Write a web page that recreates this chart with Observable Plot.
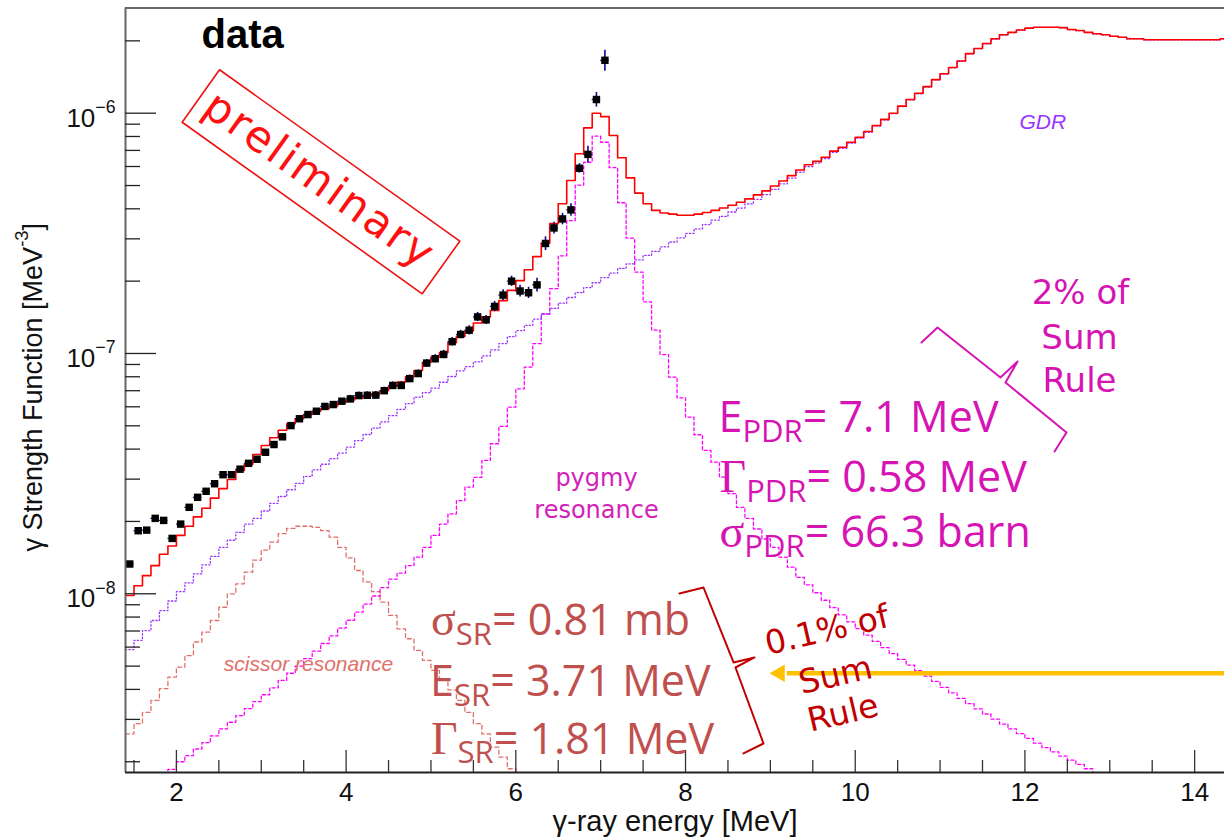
<!DOCTYPE html>
<html>
<head>
<meta charset="utf-8">
<script src="https://cdn.jsdelivr.net/npm/d3@7"></script>
<script src="https://cdn.jsdelivr.net/npm/@observablehq/plot@0.6"></script>
<style>
  html, body { margin: 0; padding: 0; background: #fff; }
  #chart { width: 1224px; height: 838px; overflow: hidden; }
</style>
</head>
<body>
<div id="chart"></div>
<script>
// Histogram binning shared by every fit component (lower edge of the first bin, bin width in MeV)
const energyStart = 1.4;
const binWidth = 0.1;

// Total fit: GDR + pygmy + scissor (one value per 0.1 MeV bin, 1.4–14.4 MeV)
const totalFit = [
  9.84e-9, 1.08e-8, 1.19e-8, 1.31e-8, 1.46e-8, 1.58e-8, 1.75e-8, 1.91e-8, 2.09e-8, 2.27e-8,
  2.50e-8, 2.74e-8, 2.99e-8, 3.26e-8, 3.45e-8, 3.80e-8, 4.14e-8, 4.46e-8, 4.79e-8, 5.10e-8,
  5.35e-8, 5.57e-8, 5.75e-8, 5.89e-8, 6.05e-8, 6.25e-8, 6.40e-8, 6.55e-8, 6.65e-8, 6.80e-8,
  7.00e-8, 7.30e-8, 7.60e-8, 8.00e-8, 8.50e-8, 9.20e-8, 9.66e-8, 1.01e-7, 1.11e-7, 1.18e-7,
  1.24e-7, 1.34e-7, 1.42e-7, 1.51e-7, 1.66e-7, 1.83e-7, 2.01e-7, 2.23e-7, 2.53e-7, 2.88e-7,
  3.47e-7, 4.20e-7, 5.25e-7, 6.78e-7, 8.69e-7, 1.00e-6, 9.68e-7, 8.08e-7, 6.52e-7, 5.38e-7,
  4.65e-7, 4.20e-7, 3.94e-7, 3.84e-7, 3.80e-7, 3.76e-7, 3.76e-7, 3.80e-7, 3.86e-7, 3.94e-7,
  4.03e-7, 4.14e-7, 4.26e-7, 4.40e-7, 4.57e-7, 4.75e-7, 4.98e-7, 5.22e-7, 5.50e-7, 5.80e-7,
  6.10e-7, 6.30e-7, 6.56e-7, 6.95e-7, 7.22e-7, 7.57e-7, 7.94e-7, 8.39e-7, 8.89e-7, 9.42e-7,
  1.00e-6, 1.07e-6, 1.14e-6, 1.21e-6, 1.29e-6, 1.38e-6, 1.46e-6, 1.55e-6, 1.65e-6, 1.77e-6,
  1.86e-6, 1.95e-6, 2.04e-6, 2.12e-6, 2.17e-6, 2.22e-6, 2.26e-6, 2.28e-6, 2.28e-6, 2.28e-6,
  2.27e-6, 2.23e-6, 2.21e-6, 2.17e-6, 2.14e-6, 2.12e-6, 2.09e-6, 2.07e-6, 2.04e-6, 2.04e-6,
  2.02e-6, 2.02e-6, 2.02e-6, 2.02e-6, 2.02e-6, 2.02e-6, 2.02e-6, 2.02e-6, 2.02e-6, 2.04e-6
];

// Giant dipole resonance component (1.4–14.4 MeV)
const gdr = [
  5.86e-9, 6.40e-9, 7.03e-9, 7.74e-9, 8.51e-9, 9.33e-9, 1.02e-8, 1.11e-8, 1.21e-8, 1.32e-8,
  1.43e-8, 1.56e-8, 1.67e-8, 1.80e-8, 1.95e-8, 2.06e-8, 2.21e-8, 2.38e-8, 2.54e-8, 2.71e-8,
  2.88e-8, 3.08e-8, 3.28e-8, 3.46e-8, 3.65e-8, 3.85e-8, 4.08e-8, 4.34e-8, 4.60e-8, 4.89e-8,
  5.19e-8, 5.51e-8, 5.85e-8, 6.19e-8, 6.58e-8, 6.87e-8, 7.18e-8, 7.59e-8, 8.02e-8, 8.47e-8,
  8.81e-8, 9.23e-8, 9.77e-8, 1.035e-7, 1.10e-7, 1.175e-7, 1.245e-7, 1.31e-7, 1.39e-7, 1.46e-7,
  1.54e-7, 1.62e-7, 1.71e-7, 1.79e-7, 1.88e-7, 1.97e-7, 2.07e-7, 2.16e-7, 2.26e-7, 2.36e-7,
  2.45e-7, 2.56e-7, 2.66e-7, 2.78e-7, 2.91e-7, 3.03e-7, 3.16e-7, 3.30e-7, 3.44e-7, 3.59e-7,
  3.72e-7, 3.88e-7, 4.03e-7, 4.19e-7, 4.38e-7, 4.58e-7, 4.82e-7, 5.08e-7, 5.37e-7, 5.68e-7,
  5.99e-7, 6.20e-7, 6.47e-7, 6.87e-7, 7.14e-7, 7.50e-7, 7.87e-7, 8.33e-7, 8.83e-7, 9.37e-7,
  9.95e-7, 1.065e-6, 1.135e-6, 1.205e-6, 1.285e-6, 1.375e-6, 1.455e-6, 1.545e-6, 1.645e-6, 1.765e-6,
  1.855e-6, 1.945e-6, 2.035e-6, 2.115e-6, 2.165e-6, 2.215e-6, 2.255e-6, 2.275e-6, 2.275e-6, 2.275e-6,
  2.265e-6, 2.225e-6, 2.205e-6, 2.165e-6, 2.138e-6, 2.118e-6, 2.088e-6, 2.068e-6, 2.038e-6, 2.038e-6,
  2.018e-6, 2.018e-6, 2.018e-6, 2.018e-6, 2.018e-6, 2.018e-6, 2.018e-6, 2.018e-6, 2.018e-6, 2.038e-6
];

// Pygmy dipole resonance component (1.4–13.1 MeV)
const pygmy = [
  1.25e-9, 1.35e-9, 1.45e-9, 1.57e-9, 1.70e-9, 1.86e-9, 2.00e-9, 2.12e-9, 2.26e-9, 2.40e-9,
  2.56e-9, 2.74e-9, 2.92e-9, 3.11e-9, 3.33e-9, 3.56e-9, 3.80e-9, 4.06e-9, 4.36e-9, 4.67e-9,
  5.00e-9, 5.37e-9, 5.77e-9, 6.21e-9, 6.68e-9, 7.19e-9, 7.76e-9, 8.38e-9, 9.06e-9, 9.79e-9,
  1.06e-8, 1.15e-8, 1.22e-8, 1.31e-8, 1.42e-8, 1.56e-8, 1.75e-8, 1.95e-8, 2.15e-8, 2.44e-8,
  2.78e-8, 3.05e-8, 3.59e-8, 4.21e-8, 4.97e-8, 5.98e-8, 7.13e-8, 8.77e-8, 1.10e-7, 1.46e-7,
  1.86e-7, 2.55e-7, 3.57e-7, 5.02e-7, 6.25e-7, 8.02e-7, 7.57e-7, 5.93e-7, 4.24e-7, 3.02e-7,
  2.18e-7, 1.64e-7, 1.25e-7, 9.90e-8, 7.97e-8, 6.54e-8, 5.43e-8, 4.59e-8, 3.95e-8, 3.53e-8,
  3.06e-8, 2.61e-8, 2.29e-8, 2.06e-8, 1.86e-8, 1.69e-8, 1.56e-8, 1.42e-8, 1.29e-8, 1.17e-8,
  1.09e-8, 1.01e-8, 9.40e-9, 8.75e-9, 8.17e-9, 7.64e-9, 7.16e-9, 6.73e-9, 6.34e-9, 5.97e-9,
  5.64e-9, 5.33e-9, 5.05e-9, 4.79e-9, 4.54e-9, 4.32e-9, 4.08e-9, 3.87e-9, 3.67e-9, 3.49e-9,
  3.32e-9, 3.16e-9, 3.01e-9, 2.87e-9, 2.74e-9, 2.62e-9, 2.50e-9, 2.39e-9, 2.29e-9, 2.20e-9,
  2.11e-9, 2.03e-9, 1.95e-9, 1.87e-9, 1.76e-9, 1.68e-9, 1.60e-9
];

// Scissor resonance component (1.4–6.2 MeV)
const scissor = [
  2.61e-9, 2.88e-9, 3.21e-9, 3.60e-9, 4.03e-9, 4.50e-9, 4.95e-9, 5.53e-9, 6.30e-9, 6.92e-9,
  7.74e-9, 8.79e-9, 1.00e-8, 1.10e-8, 1.23e-8, 1.38e-8, 1.52e-8, 1.64e-8, 1.78e-8, 1.87e-8,
  1.91e-8, 1.91e-8, 1.89e-8, 1.83e-8, 1.72e-8, 1.56e-8, 1.41e-8, 1.25e-8, 1.12e-8, 1.02e-8,
  9.23e-9, 8.13e-9, 7.14e-9, 6.50e-9, 5.81e-9, 5.28e-9, 4.80e-9, 4.37e-9, 3.98e-9, 3.60e-9,
  3.21e-9, 2.88e-9, 2.61e-9, 2.30e-9, 2.09e-9, 1.87e-9, 1.72e-9, 1.55e-9
];

// Measured strength function at bin centres 1.45, 1.55, ... 7.05 MeV
const measured = [
  1.33e-8, 1.83e-8, 1.84e-8, 2.06e-8, 2.02e-8, 1.70e-8, 1.95e-8, 2.29e-8, 2.52e-8, 2.67e-8,
  2.87e-8, 3.13e-8, 3.13e-8, 3.30e-8, 3.49e-8, 3.63e-8, 3.88e-8, 4.18e-8, 4.50e-8, 5.01e-8,
  5.35e-8, 5.57e-8, 5.75e-8, 6.02e-8, 6.13e-8, 6.33e-8, 6.47e-8, 6.68e-8, 6.70e-8, 6.71e-8,
  7.00e-8, 7.36e-8, 7.36e-8, 7.86e-8, 8.25e-8, 9.12e-8, 9.51e-8, 9.91e-8, 1.12e-7, 1.20e-7,
  1.25e-7, 1.42e-7, 1.38e-7, 1.57e-7, 1.75e-7, 2.00e-7, 1.82e-7, 1.79e-7, 1.93e-7, 2.87e-7,
  3.33e-7, 3.63e-7, 3.96e-7, 5.90e-7, 6.74e-7, 1.14e-6, 1.66e-6
];
// Relative statistical uncertainty of each measured point
const measuredErr = [
  0.025, 0.025, 0.025, 0.025, 0.025, 0.025, 0.025, 0.025, 0.025, 0.025,
  0.025, 0.025, 0.025, 0.025, 0.025, 0.025, 0.025, 0.025, 0.025, 0.025,
  0.025, 0.025, 0.025, 0.025, 0.025, 0.025, 0.035, 0.035, 0.035, 0.035,
  0.035, 0.035, 0.035, 0.035, 0.035, 0.035, 0.040, 0.040, 0.040, 0.040,
  0.044, 0.044, 0.044, 0.049, 0.052, 0.049, 0.057, 0.054, 0.066, 0.066,
  0.057, 0.055, 0.060, 0.045, 0.080, 0.070, 0.100
];

// Axis ticks and labels
const xMajor = [2, 4, 6, 8, 10, 12, 14];
const xMinor = [1.5, 2.5, 3, 3.5, 4.5, 5, 5.5, 6.5, 7, 7.5, 8.5, 9, 9.5, 10.5, 11, 11.5, 12.5, 13, 13.5];
const yMajor = [1e-8, 1e-7, 1e-6];
const yMajorLabels = ["10^{−8}", "10^{−7}", "10^{−6}"];
const yMinor = [2e-9, 3e-9, 4e-9, 5e-9, 6e-9, 7e-9, 8e-9, 9e-9,
  2e-8, 3e-8, 4e-8, 5e-8, 6e-8, 7e-8, 8e-8, 9e-8,
  2e-7, 3e-7, 4e-7, 5e-7, 6e-7, 7e-7, 8e-7, 9e-7, 2e-6];
const xDomain = [1.4, 14.352];
const yDomain = [1.804e-9, 2.74e-6];

// Annotations (energy in MeV, strength in MeV^-3)
const curveLabels = [
  {e: 11.936, s: 8.61e-7, t: "GDR", color: "#9933ff"},
  {e: 2.559, s: 4.75e-9, t: "scissor resonance", color: "#e2706b"}
];
const pygmyLabel = [
  {e: 6.951, s: 2.80e-8, t: "pygmy"},
  {e: 6.951, s: 2.07e-8, t: "resonance"}
];
const pdrNotes = [
  {e: 8.389, s: 4.70e-8, t: "E_{PDR}= 7.1 MeV"},
  {e: 8.401, s: 2.65e-8, t: "~{Γ}_{PDR}= 0.58 MeV"},
  {e: 8.401, s: 1.56e-8, t: "~{σ}_{PDR}= 66.3 barn"}
];
const srNotes = [
  {e: 5.00, s: 6.71e-9, t: "~{σ}_{SR}= 0.81 mb"},
  {e: 4.99, s: 3.74e-9, t: "E_{SR}= 3.71 MeV"},
  {e: 5.00, s: 2.16e-9, t: "~{Γ}_{SR}= 1.81 MeV"}
];
const pdrSumRule = [
  {e: 12.655, s: 1.609e-7, t: "2% of"},
  {e: 12.643, s: 1.046e-7, t: "Sum"},
  {e: 12.643, s: 6.90e-8, t: "Rule"}
];
const srSumRule = [
  {e: 9.668, s: 7.04e-9, t: "0.1% of"},
  {e: 9.768, s: 4.57e-9, t: "Sum"},
  {e: 9.856, s: 3.18e-9, t: "Rule"}
];
const pdrBrace = [
  {e: 10.781, s: 1.111e-7}, {e: 10.970, s: 1.283e-7}, {e: 11.712, s: 7.946e-8},
  {e: 11.913, s: 9.26e-8}, {e: 11.771, s: 7.573e-8}, {e: 12.490, s: 4.690e-8}, {e: 12.349, s: 3.910e-8}
];
const srBrace = [
  {e: 7.929, s: 1.003e-8}, {e: 8.212, s: 1.062e-8}, {e: 8.566, s: 5.177e-9},
  {e: 8.813, s: 5.431e-9}, {e: 8.589, s: 4.934e-9}, {e: 8.919, s: 2.382e-9}, {e: 8.683, s: 2.165e-9}
];
const stampBox = [
  {e: 2.508, s: 1.516e-6}, {e: 5.340, s: 2.933e-7}, {e: 4.897, s: 1.772e-7},
  {e: 2.068, s: 9.17e-7}, {e: 2.508, s: 1.516e-6}
];
const stamp = [{e: 3.686, s: 5.25e-7, t: "preliminary"}];
const title = [{e: 2.296, s: 1.86e-6, t: "data"}];
const arrowLine = {y: 4.674e-9, from: 9.2, to: 14.352};

// Turn a list of bin contents into step-line vertices
function histogram(values) {
  const pts = values.map((v, i) => ({e: energyStart + i * binWidth, s: v}));
  pts.push({e: energyStart + values.length * binWidth, s: values[values.length - 1]});
  return pts;
}
const points = measured.map((v, i) => ({e: energyStart + (i + 0.5) * binWidth, s: v, err: measuredErr[i]}));

const sans = "'Liberation Sans', Arial, Helvetica, sans-serif";
const roundSans = "'DejaVu Sans', 'Liberation Sans', sans-serif";
const officeSans = "'Open Sans', 'Noto Sans', sans-serif";

const chart = Plot.plot({
  width: 1224,
  height: 838,
  marginLeft: 125,
  marginRight: 0,
  marginTop: 7.5,
  marginBottom: 66,
  x: {domain: xDomain},
  y: {type: "log", domain: yDomain},
  style: {fontFamily: sans, fontSize: "26px", background: "#fff", color: "#111"},
  marks: [
    // fit components
    Plot.line(histogram(scissor), {x: "e", y: "s", curve: "step-after", stroke: "#e0706b", strokeWidth: 1.3, strokeDasharray: "4,3", clip: true}),
    Plot.line(histogram(pygmy), {x: "e", y: "s", curve: "step-after", stroke: "#ff00ff", strokeWidth: 1.3, strokeDasharray: "3,2.5", clip: true}),
    Plot.line(histogram(gdr), {x: "e", y: "s", curve: "step-after", stroke: "#9933ff", strokeWidth: 1.3, strokeDasharray: "1.3,2.2", clip: true}),
    Plot.line(histogram(totalFit), {x: "e", y: "s", curve: "step-after", stroke: "#ff0000", strokeWidth: 1.6, clip: true}),

    // measured points with error bars
    Plot.ruleY(points, {y: "s", x1: d => d.e - binWidth / 2, x2: d => d.e + binWidth / 2, stroke: "#1010a0", strokeWidth: 1.2}),
    Plot.ruleX(points, {x: "e", y1: d => d.s * (1 - d.err), y2: d => d.s * (1 + d.err), stroke: "#0a0a8c", strokeWidth: 1.6}),
    Plot.dot(points, {x: "e", y: "s", symbol: "square", r: 4.2, fill: "#000", stroke: "none"}),

    // frame
    Plot.ruleX([xDomain[0]], {stroke: "#666", strokeWidth: 2}),
    Plot.ruleY([yDomain[1]], {stroke: "#666", strokeWidth: 2}),
    Plot.ruleY([yDomain[0]], {stroke: "#222", strokeWidth: 2}),

    // axes: ticks drawn inside the frame, labels outside
    Plot.axisX(xMajor, {anchor: "bottom", tickSize: 22, dy: -22, fill: "none", stroke: "#333", strokeWidth: 1.3, label: null}),
    Plot.axisX(xMinor, {anchor: "bottom", tickSize: 12, dy: -12, fill: "none", stroke: "#333", strokeWidth: 1.3, label: null}),
    Plot.axisX(xMajor, {anchor: "bottom", tickSize: 0, tickPadding: 10, fontSize: 26, fill: "#111", label: null}),
    Plot.axisY(yMajor, {anchor: "left", tickSize: 31, dx: 31, fill: "none", stroke: "#222", strokeWidth: 1.3, label: null}),
    Plot.axisY(yMinor, {anchor: "left", tickSize: 15, dx: 15, fill: "none", stroke: "#222", strokeWidth: 1.3, label: null}),
    Plot.axisY(yMajor, {anchor: "left", tickSize: 0, tickPadding: 10, dy: 5, fontSize: 26, fill: "#111", label: null,
      tickFormat: d => yMajorLabels[yMajor.indexOf(d)]}),

    // axis titles
    Plot.text(["γ-ray energy [MeV]"], {text: d => d, frameAnchor: "bottom", dy: 58, textAnchor: "middle", lineAnchor: "bottom", fontSize: 29, fill: "#111"}),
    Plot.text(["γ Strength Function [MeV^{-3}]"], {text: d => d, frameAnchor: "left", dx: -84, dy: -3, rotate: -90, textAnchor: "middle", lineAnchor: "bottom", fontSize: 27, fill: "#111"}),

    // labels
    Plot.text(title, {x: "e", y: "s", text: "t", textAnchor: "start", lineAnchor: "bottom", fontSize: 40, fontWeight: "bold", fill: "#000"}),
    Plot.line(stampBox, {x: "e", y: "s", stroke: "#ee1111", strokeWidth: 1.6}),
    Plot.text(stamp, {x: "e", y: "s", text: "t", rotate: 35.5, lineAnchor: "middle", fontSize: 43, fontFamily: roundSans, fill: "#ff1010"}),
    Plot.text(curveLabels, {x: "e", y: "s", text: "t", fill: "color", textAnchor: "start", lineAnchor: "bottom", fontSize: 21, fontStyle: "italic"}),
    Plot.text(pygmyLabel, {x: "e", y: "s", text: "t", lineAnchor: "bottom", fontSize: 24, fontFamily: roundSans, fill: "#d420b8"}),
    Plot.text(pdrNotes, {x: "e", y: "s", text: "t", textAnchor: "start", lineAnchor: "bottom", fontSize: 43, fontFamily: officeSans, fill: "#d614b4"}),
    Plot.text(pdrSumRule, {x: "e", y: "s", text: "t", lineAnchor: "bottom", fontSize: 34, fontFamily: roundSans, fill: "#d614b4"}),
    Plot.line(pdrBrace, {x: "e", y: "s", stroke: "#d614b4", strokeWidth: 2}),
    Plot.text(srNotes, {x: "e", y: "s", text: "t", textAnchor: "start", lineAnchor: "bottom", fontSize: 43, fontFamily: officeSans, fill: "#c0504d"}),
    Plot.line(srBrace, {x: "e", y: "s", stroke: "#c00000", strokeWidth: 2}),
    Plot.ruleY([arrowLine.y], {x1: arrowLine.from, x2: arrowLine.to, stroke: "#ffc000", strokeWidth: 4.5}),
    Plot.dot([{e: arrowLine.from - 0.09, s: arrowLine.y}], {x: "e", y: "s", symbol: "triangle", rotate: -90, r: 6.5, fill: "#ffc000"}),
    Plot.text(srSumRule, {x: "e", y: "s", text: "t", rotate: -13, lineAnchor: "middle", fontSize: 33, fontFamily: roundSans, fill: "#c00000"})
  ]
});

document.getElementById("chart").appendChild(chart);

// Render _{sub}, ^{sup} and ~{serif} markup inside single-line text elements
const SVGNS = "http://www.w3.org/2000/svg";
for (const node of chart.querySelectorAll("text")) {
  if (node.querySelector("tspan")) continue;
  const src = node.textContent;
  if (src === "preliminary") node.style.letterSpacing = "2.5px";
  if (!/[_^~]\{/.test(src)) continue;
  const fs = parseFloat(getComputedStyle(node).fontSize);
  node.textContent = "";
  let shift = 0;
  const re = /([_^~])\{([^}]*)\}|([^_^~]+)/g;
  let m;
  while ((m = re.exec(src))) {
    const t = document.createElementNS(SVGNS, "tspan");
    let target = 0;
    if (m[1] === "_") {
      t.setAttribute("font-size", (fs * 0.72).toFixed(1));
      target = fs * 0.22;
      t.textContent = m[2];
    } else if (m[1] === "^") {
      t.setAttribute("font-size", (fs * 0.68).toFixed(1));
      target = -fs * 0.52;
      t.textContent = m[2];
    } else if (m[1] === "~") {
      t.setAttribute("font-family", "'Liberation Serif', 'Times New Roman', serif");
      t.setAttribute("font-size", (fs * 1.07).toFixed(1));
      t.textContent = m[2];
    } else {
      t.textContent = m[3];
    }
    if (target !== shift) t.setAttribute("dy", (target - shift).toFixed(1));
    shift = target;
    node.appendChild(t);
  }
}
</script>
</body>
</html>
